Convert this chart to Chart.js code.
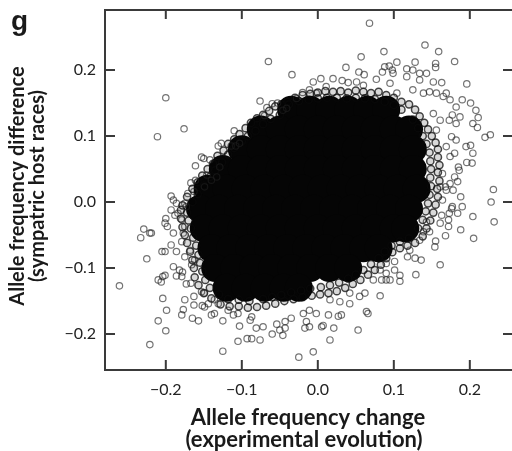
<!DOCTYPE html>
<html>
<head>
<meta charset="utf-8">
<script src="https://cdn.jsdelivr.net/npm/chart.js@4"></script>
<style>
html,body{margin:0;padding:0;background:#fff;}
canvas{display:block;}
</style>
</head>
<body>
<canvas id="c" width="512" height="451"></canvas>
<script>
// tick values of both axes
var xTicks=[-0.2,-0.1,0,0.1,0.2];
var yTicks=[-0.2,-0.1,0,0.1,0.2];

// the solid black middle of the cloud, one row of x values per y value
var coreY=[0.14,0.11,0.08,0.05,0.02,-0.01,-0.04,-0.07,-0.10,-0.13];
var coreX=[
 [-0.035,-0.01,0.015,0.04,0.065,0.09],
 [-0.075,-0.05,-0.025,0,0.025,0.05,0.075,0.1,0.12],
 [-0.1,-0.075,-0.05,-0.025,0,0.025,0.05,0.075,0.1,0.125],
 [-0.125,-0.1,-0.075,-0.05,-0.025,0,0.025,0.05,0.075,0.1,0.125],
 [-0.145,-0.12,-0.095,-0.07,-0.045,-0.02,0.005,0.03,0.055,0.08,0.105,0.13],
 [-0.155,-0.13,-0.105,-0.08,-0.055,-0.03,-0.005,0.02,0.045,0.07,0.095,0.12],
 [-0.15,-0.125,-0.1,-0.075,-0.05,-0.025,0,0.025,0.05,0.075,0.1,0.115],
 [-0.14,-0.115,-0.09,-0.065,-0.04,-0.015,0.01,0.035,0.06,0.08],
 [-0.135,-0.11,-0.085,-0.06,-0.035,-0.01,0.015,0.04],
 [-0.12,-0.095,-0.07,-0.045,-0.025]
];

// crowded loci right at the edge of the black middle
var edgeX=[
-0.178,-0.172,-0.165,-0.158,-0.152,-0.145,-0.138,-0.132,-0.124,-0.118,-0.110,-0.103,-0.095,-0.088,-0.080,-0.072,-0.064,-0.056,-0.048,-0.040,
-0.165,-0.158,-0.150,-0.142,-0.135,-0.126,-0.118,-0.110,-0.100,-0.092,-0.082,-0.072,-0.062,-0.050,
-0.030,-0.020,-0.010,0.000,0.010,0.020,0.030,0.040,0.050,0.060,0.070,0.080,0.090,0.100,0.110,0.120,0.128,
-0.038,-0.025,-0.012,0.000,0.012,0.025,0.038,0.050,0.062,0.075,0.088,0.100,0.110,
0.134,0.140,0.145,0.150,0.155,0.158,0.158,0.160,0.158,0.160,0.157,0.158,0.155,0.152,0.148,0.143,0.138,
0.125,0.132,0.138,0.143,0.147,0.148,0.149,0.148,0.149,0.147,0.145,0.142,0.138,0.132,
0.128,0.118,0.108,0.098,0.090,0.083,0.075,0.066,0.056,0.046,0.036,0.025,0.014,0.003,-0.008,-0.020,-0.032,-0.044,-0.056,-0.068,-0.080,
0.120,0.108,0.097,0.088,0.080,0.070,0.060,0.050,0.040,0.028,0.016,0.004,-0.010,-0.022,-0.035,-0.048,-0.060,-0.072,
-0.092,-0.104,-0.116,-0.128,-0.140,-0.150,-0.157,-0.162,-0.163,-0.165,-0.168,-0.172,-0.175,-0.178,-0.180,-0.180,
-0.090,-0.104,-0.118,-0.130,-0.142,-0.148,-0.152,-0.155,-0.157,-0.160,-0.164,-0.167,-0.170,-0.172
];
var edgeY=[
-0.005,0.008,0.020,0.030,0.040,0.050,0.058,0.070,0.078,0.088,0.095,0.103,0.112,0.120,0.127,0.132,0.138,0.145,0.148,0.152,
0.000,0.012,0.025,0.038,0.048,0.060,0.072,0.082,0.092,0.100,0.108,0.118,0.126,0.132,
0.158,0.162,0.164,0.166,0.168,0.167,0.168,0.166,0.169,0.167,0.165,0.167,0.162,0.158,0.152,0.148,0.140,
0.148,0.153,0.155,0.157,0.158,0.158,0.157,0.158,0.157,0.156,0.152,0.147,0.140,
0.130,0.120,0.110,0.100,0.090,0.080,0.068,0.056,0.045,0.032,0.020,0.008,-0.004,-0.016,-0.028,-0.040,-0.052,
0.125,0.112,0.100,0.088,0.075,0.062,0.050,0.037,0.024,0.011,-0.002,-0.014,-0.027,-0.040,
-0.062,-0.066,-0.070,-0.076,-0.085,-0.095,-0.103,-0.110,-0.118,-0.124,-0.130,-0.135,-0.138,-0.140,-0.142,-0.144,-0.147,-0.150,-0.154,-0.157,-0.159,
-0.055,-0.060,-0.066,-0.075,-0.085,-0.094,-0.103,-0.110,-0.116,-0.122,-0.126,-0.129,-0.131,-0.134,-0.137,-0.141,-0.144,-0.147,
-0.160,-0.158,-0.158,-0.155,-0.146,-0.138,-0.126,-0.114,-0.100,-0.088,-0.075,-0.062,-0.050,-0.038,-0.025,-0.012,
-0.150,-0.148,-0.147,-0.140,-0.130,-0.118,-0.105,-0.092,-0.080,-0.066,-0.054,-0.040,-0.028,-0.016
];

// single loci around the cloud (x = change, y = difference)
var ringX=[
-0.200,-0.211,-0.176,-0.110,-0.127,-0.131,-0.153,-0.150,-0.142,-0.161,-0.146,-0.167,-0.161,-0.193,-0.190,-0.186,-0.114,-0.108,-0.103,-0.129,-0.171,-0.163,-0.175,-0.149,-0.140,-0.133,
0.068,-0.065,-0.034,0.057,0.087,0.037,0.104,-0.076,-0.067,-0.060,-0.053,-0.070,-0.020,-0.006,0.004,0.020,0.032,0.040,0.054,0.061,0.077,0.085,0.088,0.094,0.098,-0.011,-0.002,0.011,-0.028,-0.041,-0.046,0.051,0.060,0.095,0.104,
0.141,0.159,0.180,0.196,0.155,0.155,0.201,0.208,0.211,0.210,0.204,0.220,0.227,0.231,0.228,0.232,0.190,0.182,0.177,0.173,0.195,0.201,0.204,0.196,0.203,0.186,0.184,0.188,0.190,0.184,0.177,0.204,0.173,0.164,0.168,0.164,
0.128,0.117,0.125,0.134,0.143,0.152,0.163,0.134,0.117,0.099,0.169,0.174,0.165,0.156,0.147,0.139,0.125,0.182,0.176,0.169,0.174,0.180,0.182,0.174,0.169,0.161,0.161,0.156,0.152,0.187,0.185,0.180,0.178,
0.205,0.188,0.176,0.172,0.172,0.168,0.155,0.147,0.161,0.136,0.128,0.118,0.129,0.108,0.108,0.090,0.082,0.163,0.161,0.154,0.143,0.139,0.134,0.121,0.101,
0.082,0.053,0.064,0.066,0.042,0.016,0.021,-0.006,-0.025,0.031,0.027,0.014,0.005,0.007,-0.011,-0.015,-0.017,-0.046,-0.060,-0.076,-0.043,-0.050,-0.035,-0.043,-0.054,-0.072,-0.081,-0.087,-0.002,-0.011,-0.019,0.016,0.029,0.042,0.055,0.062,0.090,0.101,0.090,0.073,0.084,0.095,
-0.261,-0.221,-0.200,-0.210,-0.199,-0.204,-0.210,-0.204,-0.206,-0.201,-0.225,-0.233,-0.229,-0.219,-0.221,-0.205,-0.201,-0.201,-0.200,-0.198,-0.190,-0.193,-0.186,-0.190,-0.182,-0.186,-0.178,-0.179,-0.175,-0.177,-0.179,-0.165,-0.157,-0.125,-0.125,-0.103,-0.105,-0.093,-0.163,-0.152,-0.163,-0.173,-0.167,-0.140,-0.136,-0.149,-0.144,-0.136,-0.131,-0.153,-0.149,-0.166,-0.162,-0.168,-0.175,-0.179,-0.177,-0.175,-0.179,-0.193,-0.188,-0.184,-0.173,-0.118,-0.111,-0.105,-0.089,-0.087
];
var ringY=[
0.158,0.099,0.111,0.108,0.089,0.085,0.068,0.066,0.064,0.055,0.041,0.029,0.033,0.009,0.003,-0.002,0.085,0.085,0.089,0.053,0.013,0.016,-0.002,0.023,0.033,0.038,
0.271,0.213,0.193,0.220,0.228,0.204,0.212,0.153,0.143,0.149,0.150,0.131,0.166,0.182,0.187,0.187,0.184,0.181,0.197,0.193,0.186,0.197,0.205,0.206,0.200,0.170,0.165,0.175,0.157,0.142,0.139,0.182,0.177,0.180,0.165,
0.238,0.228,0.213,0.179,0.210,0.204,0.150,0.139,0.128,0.113,0.119,0.098,0.102,0.019,0.000,-0.030,0.155,0.144,0.132,0.124,0.084,0.086,0.074,0.060,0.059,0.048,0.031,0.008,-0.007,-0.017,-0.007,-0.022,-0.017,0.003,0.023,0.043,
0.212,0.202,0.200,0.195,0.195,0.182,0.181,0.185,0.190,0.195,0.165,0.155,0.160,0.165,0.167,0.165,0.170,0.119,0.099,0.084,0.069,0.074,0.094,0.028,0.018,0.023,0.124,0.109,0.134,0.129,0.053,0.038,0.018,
-0.055,-0.042,-0.010,-0.027,-0.037,-0.051,-0.059,-0.045,-0.095,-0.088,-0.085,-0.083,-0.110,-0.120,-0.111,-0.118,-0.103,-0.020,-0.032,-0.068,-0.030,-0.045,-0.058,-0.073,-0.090,
-0.142,-0.194,-0.166,-0.169,-0.154,-0.209,-0.191,-0.227,-0.235,-0.171,-0.173,-0.171,-0.189,-0.187,-0.189,-0.181,-0.191,-0.202,-0.200,-0.209,-0.191,-0.194,-0.176,-0.181,-0.185,-0.189,-0.191,-0.207,-0.169,-0.164,-0.169,-0.148,-0.151,-0.138,-0.143,-0.138,-0.108,-0.103,-0.093,-0.118,-0.118,-0.118,
-0.127,-0.216,-0.195,-0.180,-0.164,-0.146,-0.118,-0.113,-0.121,-0.111,-0.086,-0.054,-0.041,-0.047,-0.047,-0.075,-0.075,-0.032,-0.025,-0.037,-0.047,-0.065,-0.075,-0.098,-0.103,-0.112,-0.106,-0.113,-0.148,-0.163,-0.171,-0.176,-0.180,-0.180,-0.226,-0.188,-0.211,-0.207,-0.143,-0.157,-0.156,-0.124,-0.123,-0.171,-0.169,-0.159,-0.154,-0.148,-0.154,-0.136,-0.138,-0.095,-0.088,-0.073,-0.083,-0.060,-0.047,-0.037,-0.027,-0.012,-0.020,-0.017,-0.007,-0.164,-0.171,-0.169,-0.179,-0.174
];

var corePts=[];
for(var i=0;i<coreY.length;i++){
  for(var j=0;j<coreX[i].length;j++){corePts.push({x:coreX[i][j],y:coreY[i]});}
}
var edgePts=[];
for(var e=0;e<edgeX.length;e++){edgePts.push({x:edgeX[e],y:edgeY[e]});}
var ringPts=[];
for(var k=0;k<ringX.length;k++){ringPts.push({x:ringX[k],y:ringY[k]});}

function fmt(v){
  if(Math.abs(v)<1e-9) return '0.0';
  return (v<0?'\u2212':'')+Math.abs(v).toFixed(1);
}

var axisCol='#3a3a3a';
var frame={
  id:'frame',
  afterDraw:function(chart){
    var ctx=chart.ctx,a=chart.chartArea,sx=chart.scales.x,sy=chart.scales.y;
    ctx.save();
    ctx.strokeStyle=axisCol;ctx.lineWidth=2;
    ctx.beginPath();
    ctx.moveTo(a.right+2,a.top);ctx.lineTo(a.left,a.top);
    ctx.lineTo(a.left,a.bottom);ctx.lineTo(a.right+2,a.bottom);
    xTicks.forEach(function(v){
      var p=sx.getPixelForValue(v);
      ctx.moveTo(p,a.bottom);ctx.lineTo(p,a.bottom-10);
      ctx.moveTo(p,a.top);ctx.lineTo(p,a.top+9);
    });
    yTicks.forEach(function(v){
      var p=sy.getPixelForValue(v);
      ctx.moveTo(a.left,p);ctx.lineTo(a.left+10,p);
      ctx.moveTo(a.right,p);ctx.lineTo(a.right-9,p);
    });
    ctx.stroke();

    ctx.fillStyle='#1a1a1a';
    ctx.textAlign='center';ctx.textBaseline='middle';
    ctx.font='bold 22px Lato';
    ctx.fillText('Allele frequency change',308,418);
    ctx.fillText('(experimental evolution)',304,440);
    ctx.font='bold 20px Lato';
    ctx.save();
    ctx.translate(18,186);ctx.rotate(-Math.PI/2);
    ctx.fillText('Allele frequency difference',0,0);
    ctx.restore();
    ctx.save();
    ctx.translate(38,186);ctx.rotate(-Math.PI/2);
    ctx.fillText('(sympatric host races)',0,0);
    ctx.restore();

    ctx.textAlign='left';ctx.textBaseline='alphabetic';
    ctx.font='bold 28px "Liberation Sans"';
    ctx.fillText('g',11,30);
    ctx.restore();
  }
};

new Chart(document.getElementById('c'),{
  type:'scatter',
  data:{datasets:[
    {label:'loci',data:ringPts,pointRadius:3.2,pointBorderWidth:1.2,
     pointBorderColor:'rgba(30,30,30,0.62)',pointBackgroundColor:'rgba(0,0,0,0)'},
    {label:'edge',data:edgePts,pointRadius:3.6,pointBorderWidth:1.5,
     pointBorderColor:'rgba(10,10,10,0.75)',pointBackgroundColor:'rgba(0,0,0,0.15)'},
    {label:'dense',data:corePts,pointRadius:14,pointBorderWidth:0,
     pointBackgroundColor:'#050505',pointBorderColor:'#050505'}
  ]},
  options:{
    responsive:false,animation:false,
    layout:{autoPadding:false,padding:{top:10,right:0,left:0,bottom:0}},
    plugins:{legend:{display:false},tooltip:{enabled:false}},
    scales:{
      x:{type:'linear',min:-0.28,max:0.2555,
        grid:{display:false,drawTicks:false},border:{display:false},
        afterFit:function(s){s.height=81;s.paddingLeft=0;s.paddingRight=0;},
        afterBuildTicks:function(s){s.ticks=xTicks.map(function(v){return {value:v};});},
        ticks:{padding:10,color:'#222',font:{family:'Lato',size:16},callback:function(v){return fmt(v);}}},
      y:{type:'linear',min:-0.2545,max:0.291,
        grid:{display:false,drawTicks:false},border:{display:false},
        afterFit:function(s){s.width=105;s.paddingTop=0;s.paddingBottom=0;},
        afterBuildTicks:function(s){s.ticks=yTicks.map(function(v){return {value:v};});},
        ticks:{padding:9,color:'#222',font:{family:'Lato',size:16},callback:function(v){return fmt(v);}}}
    }
  },
  plugins:[frame]
});
</script>
</body>
</html>
